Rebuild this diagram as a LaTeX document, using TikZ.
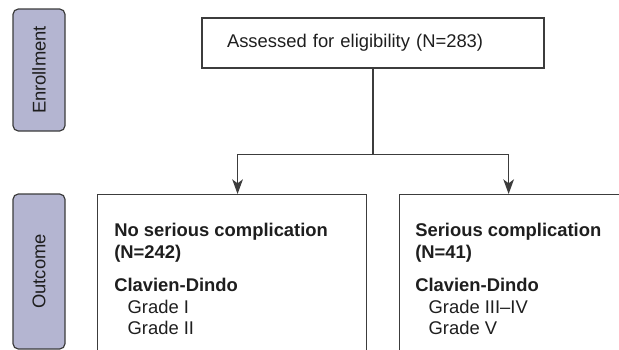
\documentclass[tikz,border=0pt]{standalone}
\usepackage{fontspec}
\setmainfont{Liberation Sans}
\usetikzlibrary{shapes,arrows.meta,positioning}

\definecolor{lavender}{HTML}{B4B5D1}
\definecolor{linegray}{HTML}{3C3C3C}
\definecolor{inkgray}{HTML}{1E1E1E}

\begin{document}
\begin{tikzpicture}[
    x=0.75pt, y=-0.75pt,
    >={Stealth[length=11pt,width=8pt,inset=3pt]},
    font=\fontsize{13.8pt}{16.1pt}\selectfont,
    text=inkgray,
    phase/.style={rectangle, rounded corners=4pt, draw=linegray, fill=lavender, line width=0.9pt, rotate=90, minimum height=39pt, inner sep=0pt},
    flowbox/.style={rectangle, draw=linegray, line width=0.9pt, inner sep=0pt},
    boxtext/.style={align=left, inner sep=0pt, anchor=north west},
    link/.style={draw=linegray, line width=0.9pt}
]

\useasboundingbox (0,0) rectangle (619,350);
\clip (0,0) rectangle (619,350);

% side labels
\node[phase, minimum width=91.5pt] (enroll) at (39,70) {Enrollment};
\node[phase, minimum width=116.25pt] (outcome) at (39,271.5) {Outcome};

% boxes
\node[flowbox, text width=219pt, inner xsep=18.75pt, minimum height=37.5pt, align=left] (assess) at (373,43) {Assessed for eligibility (N=283)};
\node[flowbox, anchor=north west, minimum width=201.75pt, minimum height=135pt] (noserious) at (97,194) {};
\node[flowbox, anchor=north west, minimum width=201.75pt, minimum height=135pt] (serious) at (399,194) {};

\node[boxtext] (noseriousinfo) at ([shift={(17,29)}]noserious.north west) {
  \textbf{No serious complication}\\
  \textbf{(N=242)}\\[9pt]
  \textbf{Clavien-Dindo}\\
  \hspace*{10pt}Grade I\\
  \hspace*{10pt}Grade II
};
\node[boxtext] (seriousinfo) at ([shift={(16,29)}]serious.north west) {
  \textbf{Serious complication}\\
  \textbf{(N=41)}\\[9pt]
  \textbf{Clavien-Dindo}\\
  \hspace*{10pt}Grade III–IV\\
  \hspace*{10pt}Grade V
};

% connectors
\coordinate (split) at ([yshift=-64.5pt]assess.south);
\draw[link] (assess.south) -- (split);
\draw[link, ->] (split) -| ([xshift=4.1pt]noserious.north);
\draw[link, ->] (split) -| ([xshift=-19.1pt]serious.north);

\end{tikzpicture}
\end{document}
